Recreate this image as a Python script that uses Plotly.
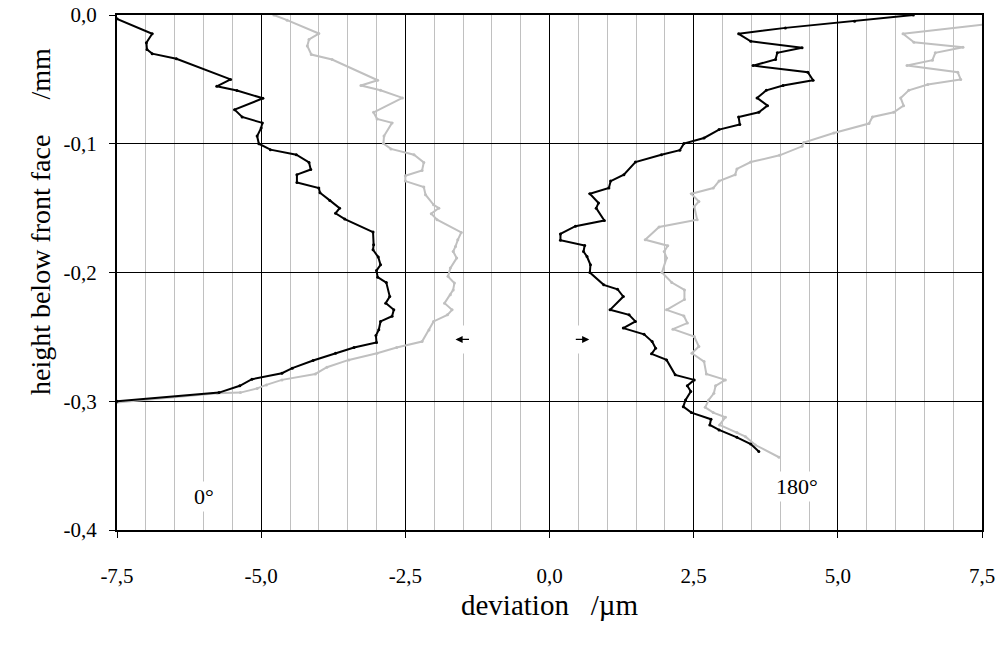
import plotly.graph_objects as go

# 0 degree profile (black)
x0_black = [-7.50, -6.89, -6.99, -6.98, -6.89, -6.47, -5.53, -5.77, -5.42, -4.97, -5.46, -5.33, -4.98, -5.00,
            -5.07, -5.04, -4.84, -4.39, -4.17, -4.14, -4.38, -4.38, -4.00, -3.98, -3.81, -3.64, -3.71, -3.55,
            -3.06, -3.05, -3.06, -2.97, -2.93, -3.00, -2.98, -2.83, -2.77, -2.84, -2.70, -2.73, -2.93, -2.96,
            -3.01, -3.00, -3.39, -3.71, -4.10, -4.46, -4.64, -5.16, -5.37, -5.73, -7.50]
y0_black = [-0.003, -0.0146, -0.0216, -0.0268, -0.030, -0.034, -0.050, -0.0554, -0.0587, -0.0647, -0.0735,
            -0.0792, -0.0838, -0.0877, -0.094, -0.100, -0.1046, -0.1085, -0.1145, -0.120, -0.124, -0.130,
            -0.1344, -0.138, -0.144, -0.150, -0.154, -0.1585, -0.1686, -0.1785, -0.1823, -0.188, -0.194,
            -0.1985, -0.2036, -0.2078, -0.2187, -0.2238, -0.229, -0.234, -0.238, -0.2445, -0.249, -0.2544,
            -0.2583, -0.2627, -0.2684, -0.2743, -0.2782, -0.2829, -0.288, -0.2933, -0.300]

# 0 degree profile (grey)
x0_grey = [-4.78, -4.55, -4.00, -4.17, -4.20, -4.13, -3.77, -2.98, -3.27, -2.93, -2.55, -3.05, -2.99, -2.73,
           -2.87, -2.88, -2.75, -2.35, -2.18, -2.21, -2.50, -2.50, -2.18, -2.15, -2.01, -1.92, -2.05, -1.95,
           -1.53, -1.59, -1.63, -1.67, -1.61, -1.72, -1.76, -1.65, -1.67, -1.72, -1.82, -1.69, -1.77, -2.01,
           -2.09, -2.21, -2.65, -2.99, -3.48, -3.86, -4.06, -4.64, -4.91, -5.07, -5.36, -5.76, -7.50]
y0_grey = [0.0, -0.004, -0.0144, -0.019, -0.024, -0.0307, -0.0346, -0.0507, -0.0548, -0.0585, -0.0644,
           -0.0756, -0.0807, -0.0838, -0.094, -0.0999, -0.104, -0.1085, -0.1145, -0.1207, -0.1248, -0.129,
           -0.1336, -0.1396, -0.1474, -0.150, -0.1543, -0.159, -0.1689, -0.1746, -0.1798, -0.1837, -0.1888,
           -0.1966, -0.203, -0.2082, -0.2135, -0.2173, -0.2238, -0.229, -0.2329, -0.238, -0.2446, -0.2536,
           -0.2583, -0.2627, -0.2679, -0.2736, -0.2788, -0.2834, -0.2873, -0.290, -0.2933, -0.2938, -0.301]

# 180 degree profile (black)
x180_black = [6.31, 5.29, 4.09, 3.28, 3.49, 4.38, 3.95, 3.92, 3.53, 4.48, 4.57, 4.05, 3.76, 3.60, 3.78, 3.63,
              3.28, 3.30, 2.94, 2.68, 2.33, 2.26, 1.94, 1.49, 1.29, 1.06, 1.03, 0.70, 0.85, 0.81, 0.95, 0.45,
              0.19, 0.19, 0.61, 0.59, 0.65, 0.71, 0.70, 0.94, 1.18, 1.28, 1.05, 1.38, 1.49, 1.28, 1.64, 1.78,
              1.84, 1.77, 2.03, 2.18, 2.51, 2.39, 2.45, 2.36, 2.32, 2.46, 2.80, 2.78, 2.94, 3.25, 3.49, 3.63]
y180_black = [0.0, -0.0048, -0.010, -0.0146, -0.0204, -0.0255, -0.0294, -0.0346, -0.0393, -0.0445, -0.0507,
              -0.0548, -0.0585, -0.0644, -0.0704, -0.0756, -0.0792, -0.0851, -0.089, -0.0955, -0.0999, -0.105,
              -0.1085, -0.1142, -0.124, -0.129, -0.1344, -0.1388, -0.146, -0.150, -0.1596, -0.164, -0.170,
              -0.175, -0.179, -0.1837, -0.1876, -0.194, -0.200, -0.2096, -0.213, -0.2187, -0.229, -0.2329,
              -0.238, -0.2432, -0.248, -0.2536, -0.2588, -0.2632, -0.2679, -0.2795, -0.2834, -0.2880, -0.2925,
              -0.299, -0.3042, -0.3088, -0.314, -0.3184, -0.3223, -0.328, -0.3332, -0.339]

# 180 degree profile (grey)
x180_grey = [7.60, 6.13, 6.32, 7.17, 6.69, 6.64, 6.20, 7.08, 7.13, 6.56, 6.23, 6.09, 6.14, 5.97, 5.60, 5.54,
             4.93, 4.41, 4.38, 3.99, 3.49, 3.25, 3.22, 2.94, 2.84, 2.46, 2.59, 2.51, 2.56, 1.90, 1.66, 2.05,
             1.99, 2.03, 1.95, 2.12, 2.34, 2.34, 2.03, 2.33, 2.39, 2.14, 2.51, 2.59, 2.47, 2.68, 2.72, 3.05,
             2.88, 2.85, 2.76, 2.70, 2.84, 3.05, 2.95, 3.25, 3.40, 3.57, 3.98]
y180_grey = [-0.007, -0.0146, -0.0211, -0.025, -0.0294, -0.0351, -0.0393, -0.0445, -0.050, -0.054, -0.0585,
             -0.0644, -0.0704, -0.0756, -0.0792, -0.0843, -0.0917, -0.099, -0.102, -0.109, -0.1142, -0.1196,
             -0.124, -0.129, -0.1344, -0.1388, -0.1448, -0.1487, -0.159, -0.1647, -0.1746, -0.1792, -0.1837,
             -0.1888, -0.200, -0.2078, -0.2135, -0.221, -0.229, -0.2337, -0.2393, -0.244, -0.2498, -0.2575,
             -0.2627, -0.2692, -0.2788, -0.2834, -0.288, -0.2938, -0.299, -0.3047, -0.3088, -0.3124, -0.3184,
             -0.3243, -0.3275, -0.334, -0.3435]

x_tickvals = [-7.5, -5.0, -2.5, 0.0, 2.5, 5.0, 7.5]
x_ticktext = ["-7,5", "-5,0", "-2,5", "0,0", "2,5", "5,0", "7,5"]
y_tickvals = [0.0, -0.1, -0.2, -0.3, -0.4]
y_ticktext = ["0,0", "-0,1", "-0,2", "-0,3", "-0,4"]

# direction arrows: (head x, tail x, y)
arrows = [(-1.63, -1.37, -0.252), (0.69, 0.43, -0.252)]

BLACK = "#000000"
GREY = "#c0c0c0"
FONT = "Liberation Serif"

fig = go.Figure()
for xs, ys, col in [(x0_grey, y0_grey, GREY), (x180_grey, y180_grey, GREY),
                    (x0_black, y0_black, BLACK), (x180_black, y180_black, BLACK)]:
    fig.add_trace(go.Scatter(x=xs, y=ys, mode="lines+markers",
                             line=dict(color=col, width=2),
                             marker=dict(color=col, size=3),
                             showlegend=False, hoverinfo="skip", cliponaxis=True))

# in-plot labels
for tx, x, y in [("0°", -6.0, -0.374), ("180°", 4.3, -0.366)]:
    fig.add_annotation(x=x, y=y, xref="x", yref="y", text=tx, showarrow=False,
                       font=dict(family=FONT, size=22, color="black"),
                       bgcolor="white", borderpad=2)

for hx, tx, y in arrows:
    # white patch behind the arrow
    fig.add_annotation(x=(hx + tx) / 2, y=y, xref="x", yref="y", text="\u00a0\u00a0\u00a0\u00a0",
                       showarrow=False, font=dict(family=FONT, size=22, color="black"),
                       bgcolor="white", borderpad=1)
    fig.add_annotation(x=hx, y=y, ax=tx, ay=y, xref="x", yref="y", axref="x", ayref="y",
                       text="", showarrow=True, arrowhead=2, arrowsize=1.1, arrowwidth=1.3,
                       arrowcolor="black", standoff=0, startstandoff=0)

# axis titles
fig.add_annotation(x=0.5, y=-0.146, xref="paper", yref="paper", text="deviation \u00a0\u00a0/µm",
                   showarrow=False, font=dict(family=FONT, size=29, color="black"),
                   xanchor="center", yanchor="middle")
fig.add_annotation(x=-0.089, y=0.598, xref="paper", yref="paper",
                   text="height below front face \u00a0\u00a0\u00a0\u00a0/mm", textangle=-90,
                   showarrow=False, font=dict(family=FONT, size=28, color="black"),
                   xanchor="center", yanchor="middle")

fig.update_layout(
    width=1000, height=645,
    margin=dict(l=117, r=18, t=15, b=115, autoexpand=False),
    paper_bgcolor="white", plot_bgcolor="white",
    font=dict(family=FONT, size=21, color="black"),
    xaxis=dict(range=[-7.5, 7.5], tickvals=x_tickvals, ticktext=x_ticktext,
               showgrid=True, gridcolor=BLACK, gridwidth=1,
               minor=dict(dtick=0.5, tick0=0, showgrid=True, gridcolor=GREY, gridwidth=1),
               zeroline=False, showline=True, mirror=True, linecolor=BLACK, linewidth=2,
               ticks="outside", ticklen=6, tickcolor=BLACK, ticklabelstandoff=20, automargin=False),
    yaxis=dict(range=[-0.4, 0.0], tickvals=y_tickvals, ticktext=y_ticktext,
               showgrid=True, gridcolor=BLACK, gridwidth=1,
               zeroline=False, showline=True, mirror=True, linecolor=BLACK, linewidth=2,
               ticks="outside", ticklen=6, tickcolor=BLACK, ticklabelstandoff=8, automargin=False),
)

fig.write_html("out.html")
